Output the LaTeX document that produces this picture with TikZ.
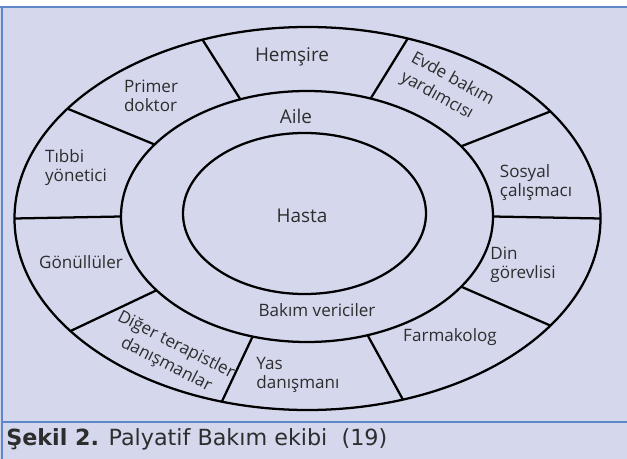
\documentclass[tikz,border=0pt]{standalone}
\usepackage{fontspec}
\setmainfont{Open Sans}
\newfontfamily\capfont{DejaVu Sans}
\usetikzlibrary{calc}

\definecolor{panelbg}{RGB}{213,216,237}
\definecolor{frameblue}{RGB}{95,135,200}
\definecolor{labelgray}{RGB}{45,45,45}

\tikzset{
  ring/.style={draw=black, line width=1.7pt},
  spoke/.style={draw=black, line width=1.7pt},
  frameline/.style={draw=frameblue, line width=1.1pt},
  lbl/.style={inner sep=0.75pt, text=labelgray, align=left, font=\fontsize{12.8}{14.3}\selectfont},
  biglbl/.style={inner sep=0.75pt, text=labelgray, font=\fontsize{14.2}{16}\selectfont},
  captxt/.style={inner sep=0.75pt, text=labelgray, anchor=base west, font=\capfont\fontsize{16.7}{18}\selectfont}
}

\begin{document}
\begin{tikzpicture}[x=0.75pt,y=0.75pt,yscale=-1,xscale=1]
\useasboundingbox (0,0) rectangle (627,459);

%Panel
\fill [panelbg] (0,7) rectangle (627,459);
\draw [frameline] (0,7) -- (627,7);
\draw [frameline] (2,7) -- (2,459);
\draw [frameline] (2,422) -- (627,422);

%Shape: Ellipse [outer]
\draw [ring] (307.5,218.5) ellipse (293 and 191.5);
%Shape: Ellipse [middle]
\draw [ring] (307,216.5) ellipse (186 and 125.5);
%Shape: Ellipse [inner]
\draw [ring] (304.5,213.5) ellipse (121.5 and 80.5);

%Straight Lines [dividers]
\foreach \t [count=\i] in {0,34,70,111,145,180,-144,-107,-71,-34} {
  \coordinate (out\i) at ({307.5+293*cos(\t)},{218.5-191.5*sin(\t)});
  \coordinate (mid\i) at ({307+186*cos(\t)},{216.5-125.5*sin(\t)});
  \draw [spoke] (mid\i) -- (out\i);
}

% Text Node
\node [biglbl] (hasta) at (302,216) {Hasta};
% Text Node
\node [biglbl] (aile) at (296,116) {Aile};
% Text Node
\node [lbl] (bakim) at (317,310) {Bakım vericiler};
% Text Node
\node [biglbl] (hemsire) at (292,57) {Hemşire};
% Text Node
\node [lbl, rotate=-29] (evde) at (447,89) {Evde bakım\\[2pt]yardımcısı};
% Text Node
\node [lbl] (sosyal) at (536,183) {Sosyal\\çalışmacı};
% Text Node
\node [lbl] (din) at (523,265) {Din\\görevlisi};
% Text Node
\node [lbl] (farma) at (450,337) {Farmakolog};
% Text Node
\node [lbl] (yas) at (298,375) {Yas\\danışmanı};
% Text Node
\node [lbl, rotate=-27] (diger) at (171,355) {Diğer terapistler\\[2pt]\hspace*{11pt}danışmanlar};
% Text Node
\node [lbl] (gonullu) at (81,262) {Gönüllüler};
% Text Node
\node [lbl] (tibbi) at (76,168) {Tıbbi\\yönetici};
% Text Node
\node [lbl] (primer) at (151,96) {Primer\\doktor};

% Text Node
\node [captxt] (caption) at (5,445) {\textbf{Şekil 2.} Palyatif Bakım ekibi\ \ (19)};

\end{tikzpicture}
\end{document}
